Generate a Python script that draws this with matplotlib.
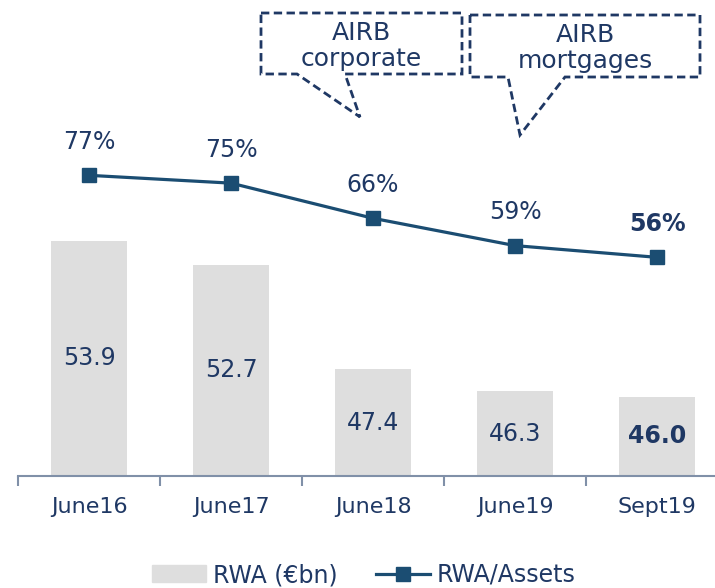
import matplotlib.pyplot as plt
from matplotlib.patches import Polygon, Patch
from matplotlib.lines import Line2D

periods = ['June16', 'June17', 'June18', 'June19', 'Sept19']
rwa = [53.9, 52.7, 47.4, 46.3, 46.0]
rwa_assets = [77, 75, 66, 59, 56]

TEXT = '#1f3864'
LINE = '#1b4d72'
BAR = '#dedede'
AXIS = '#8090a8'

W, H = 715, 588
plt.rcParams['font.family'] = ['DejaVu Sans']

fig = plt.figure(figsize=(W / 100, H / 100), dpi=100)
ax = fig.add_axes([18 / W, 112 / H, 710 / W, 476 / H])
ax2 = ax.twinx()

x = list(range(len(periods)))
ax.bar(x, rwa, width=0.53, color=BAR, zorder=1)
ax.set_xlim(-0.5, len(periods) - 0.5)
ax.set_ylim(42, 66.1)
ax2.set_ylim(0, 121.9)

for i, v in enumerate(rwa):
    bold = i == len(rwa) - 1
    ax.text(i, (42 + v) / 2, f'{v:.1f}', ha='center', va='center', fontsize=17,
            color=TEXT, fontweight='bold' if bold else 'normal')

ax2.plot(x, rwa_assets, color=LINE, lw=2.3, marker='s', ms=10, zorder=3)
for i, v in enumerate(rwa_assets):
    bold = i == len(rwa_assets) - 1
    ax2.annotate(f'{v}%', (i, v), xytext=(0, 24), textcoords='offset points',
                 ha='center', va='center', fontsize=17, color=TEXT,
                 fontweight='bold' if bold else 'normal')

for a in (ax, ax2):
    for s in ('top', 'right', 'left'):
        a.spines[s].set_visible(False)
    a.set_yticks([])
ax2.spines['bottom'].set_visible(False)
ax.spines['bottom'].set_color(AXIS)
ax.spines['bottom'].set_linewidth(1.5)

ax.set_xticks(x)
ax.set_xticklabels(periods, fontsize=16, color=TEXT)
ax.tick_params(axis='x', which='major', length=0, pad=15)
ax.set_xticks([i - 0.5 for i in range(len(periods) + 1)], minor=True)
ax.tick_params(axis='x', which='minor', length=7, width=1.5, color=AXIS)


def px(pts):
    return [(a / W, 1 - b / H) for a, b in pts]


callouts = [
    ('AIRB\ncorporate', (261, 13, 462, 74), (297, 345), (360, 117), 361),
    ('AIRB\nmortgages', (470, 15, 700, 77), (508, 565), (520, 135), 585),
]
for label, (x0, y0, x1, y1), (b0, b1), tip, cx in callouts:
    shape = [(x0, y0), (x1, y0), (x1, y1), (b1, y1), tip, (b0, y1), (x0, y1)]
    fig.patches.append(Polygon(px(shape), closed=True, transform=fig.transFigure,
                               fill=False, edgecolor=TEXT, lw=2,
                               linestyle=(0, (3, 1.6))))
    fig.text(cx / W, 1 - (y0 + 33) / H, label, ha='center',
             va='center', fontsize=18, color=TEXT, linespacing=1.15)

handles = [Patch(color=BAR),
           Line2D([], [], color=LINE, lw=2.3, marker='s', ms=10)]
fig.legend(handles, ['RWA (€bn)', 'RWA/Assets'], loc='center',
           bbox_to_anchor=(0.509, 13 / H), ncol=2, frameon=False, fontsize=17,
           labelcolor=TEXT, handlelength=2.3, columnspacing=1.6,
           handletextpad=0.3)

fig.savefig('out.png', dpi=100)
